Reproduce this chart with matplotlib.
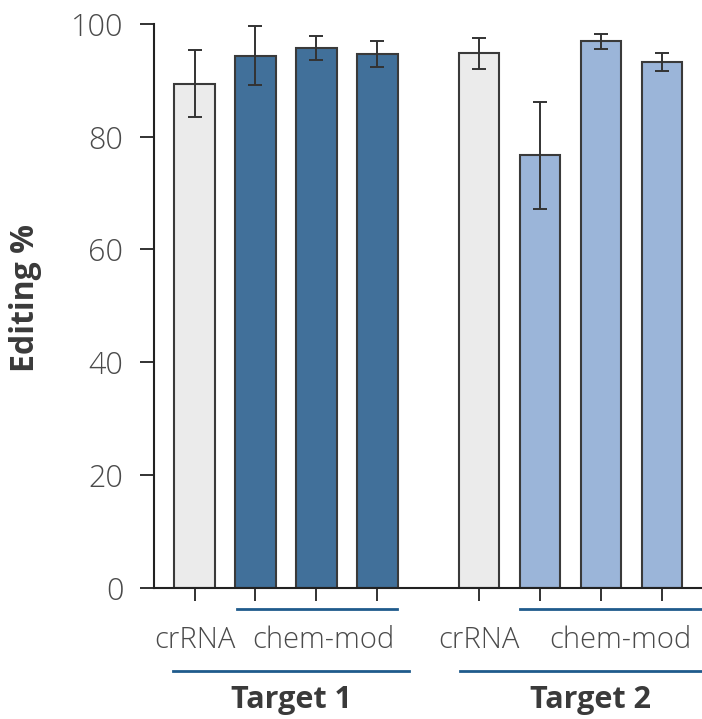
import matplotlib
matplotlib.use("Agg")
import matplotlib.pyplot as plt
import matplotlib.transforms as mtransforms
import numpy as np

plt.rcParams['font.family'] = ['Open Sans', 'DejaVu Sans']

# data
t1_values = [89.4, 94.4, 95.7, 94.7]
t1_errors = [5.9, 5.2, 2.1, 2.3]
t2_values = [94.8, 76.7, 96.9, 93.2]
t2_errors = [2.8, 9.5, 1.3, 1.6]
t1_colors = ['#ebebeb', '#41709a', '#41709a', '#41709a']
t2_colors = ['#ebebeb', '#9bb5d9', '#9bb5d9', '#9bb5d9']
y_ticks = [0, 20, 40, 60, 80, 100]

t1_pos = np.arange(4)
t2_pos = np.arange(4) + 4.67

fig = plt.figure(figsize=(7.02, 7.19), dpi=100)
ax = fig.add_axes([154 / 702, 131.5 / 719, 548 / 702, 563.5 / 719])

edge = '#3a3a3a'
for pos, vals, errs, cols in [(t1_pos, t1_values, t1_errors, t1_colors),
                              (t2_pos, t2_values, t2_errors, t2_colors)]:
    ax.bar(pos, vals, width=0.656, color=cols, edgecolor=edge, linewidth=1.5, zorder=2)
    ax.errorbar(pos, vals, yerr=errs, fmt='none', ecolor='#333333',
                elinewidth=1.4, capsize=5, capthick=1.4, zorder=3)

ax.set_xlim(-0.664, 8.32)
ax.set_ylim(0, 100)
ax.set_yticks(y_ticks)
ax.set_xticks(np.concatenate([t1_pos, t2_pos]))
ax.set_xticklabels([])
ax.tick_params(axis='y', labelsize=22, labelcolor='#4a4a4a', length=10, width=1.3,
               color='#222222', pad=12)
ax.tick_params(axis='x', length=9, width=1.3, color='#222222')
for lbl in ax.get_yticklabels():
    lbl.set_fontweight('light')
for side in ['top', 'right']:
    ax.spines[side].set_visible(False)
for side in ['left', 'bottom']:
    ax.spines[side].set_linewidth(1.5)
    ax.spines[side].set_color('#222222')

fig.text(26 / 702, 1 - 298 / 719, 'Editing %', rotation=90, ha='center', va='center',
         fontsize=23, fontweight='bold', color='#3a3a3a')

# group annotations below the axis
trans = mtransforms.blended_transform_factory(ax.transData, ax.transAxes)
line_col = '#1f5b8c'

def ypos(pix):
    return (587.5 - pix) / 563.5

ax.plot([0.697, 3.32], [ypos(609.3)] * 2, color=line_col, lw=2, transform=trans, clip_on=False)
ax.plot([5.34, 8.65], [ypos(609.3)] * 2, color=line_col, lw=2, transform=trans, clip_on=False)
ax.plot([-0.352, 3.516], [ypos(671)] * 2, color=line_col, lw=2, transform=trans, clip_on=False)
ax.plot([4.35, 8.65], [ypos(671)] * 2, color=line_col, lw=2, transform=trans, clip_on=False)

sub_labels = [(0.0, 'crRNA'), (2.107, 'chem-mod'), (4.66, 'crRNA'), (6.99, 'chem-mod')]
for x, s in sub_labels:
    ax.text(x, ypos(640), s, transform=trans, ha='center', va='center',
            fontsize=21, fontweight='light', color='#4a4a4a')

for x, s in [(1.58, 'Target 1'), (6.5, 'Target 2')]:
    ax.text(x, ypos(700), s, transform=trans, ha='center', va='center',
            fontsize=22, fontweight='bold', color='#3a3a3a')

fig.savefig('out.png', dpi=100)
